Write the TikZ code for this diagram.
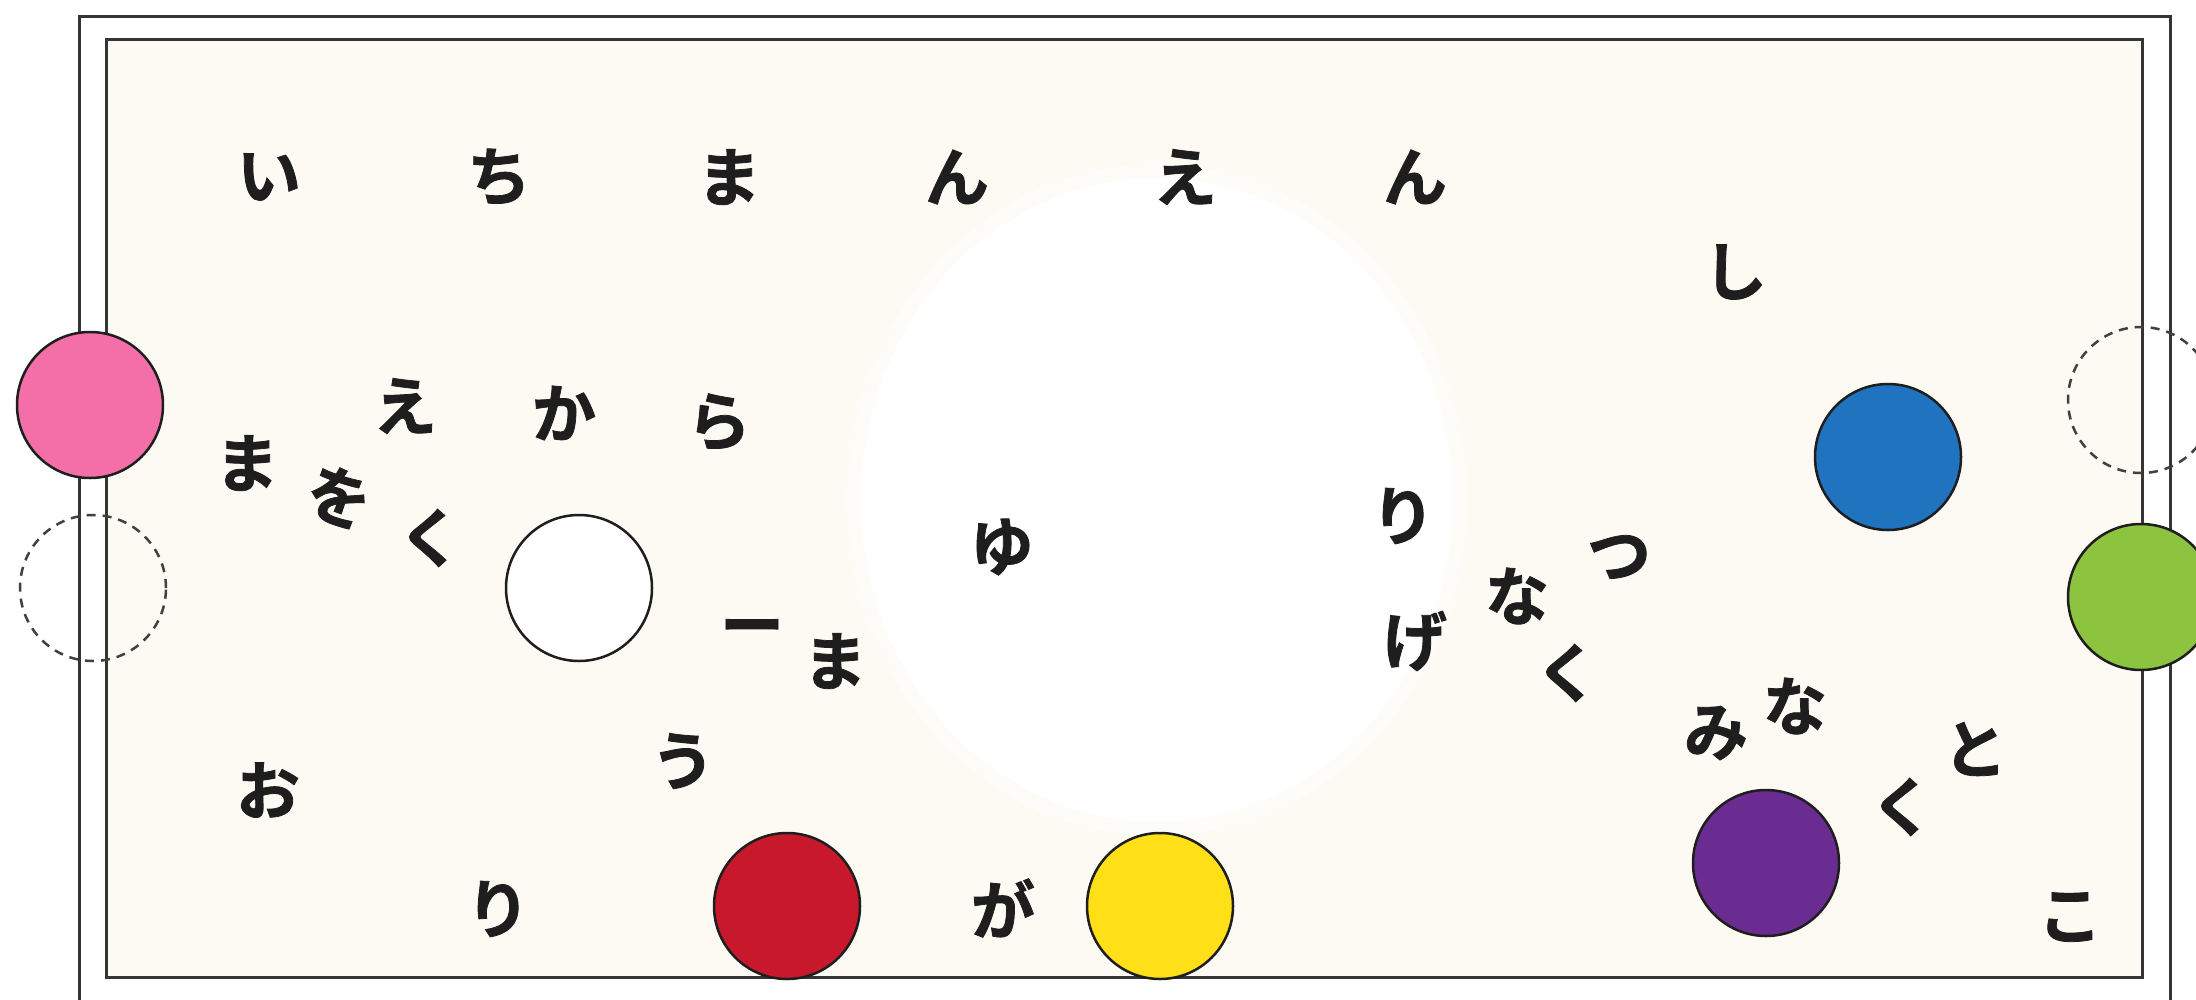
\documentclass[tikz,border=0pt]{standalone}
\usepackage{fontspec}
\newfontfamily\jp{Noto Sans CJK JP}[UprightFont=* Bold, FakeBold=1.2]
\definecolor{cream}{HTML}{FDFAF4}
\definecolor{cpink}{HTML}{F46FA8}
\definecolor{cblue}{HTML}{2073BF}
\definecolor{cgreen}{HTML}{8DC43F}
\definecolor{cred}{HTML}{C8192C}
\definecolor{cyellow}{HTML}{FFDF18}
\definecolor{cpurple}{HTML}{6B2C91}
\definecolor{ink}{HTML}{1E1E1E}
\begin{document}
\begin{tikzpicture}[x=1pt,y=-1pt,
  ltr/.style={inner sep=0pt, font=\jp\fontsize{64}{64}\selectfont, text=ink},
  ball/.style={circle, minimum size=146pt, inner sep=0pt, draw=ink, line width=2.5pt},
  hole/.style={circle, minimum size=146pt, inner sep=0pt, draw=ink!85, line width=2.5pt, dash pattern=on 9pt off 7pt},
  frameline/.style={draw=ink!90, line width=3pt}]
\useasboundingbox (0,0) rectangle (2196,999);
\fill[white] (0,0) rectangle (2196,999);
\fill[cream] (106,39) rectangle (2142,977);
% soft white blob
\fill[white, opacity=0.45] (1157,500) ellipse [x radius=310, y radius=336];
\fill[white] (1157,500) ellipse [x radius=296, y radius=322];
% frame
\draw[frameline] (79,16) rectangle (2170,1020);
\draw[frameline] (106,39) rectangle (2142,977);
% pockets
\node[hole] (h1) at (93,588) {};
\node[hole] (h2) at (2141,400) {};
% balls
\node[ball, fill=cpink] (bpink) at (90,405) {};
\node[ball, fill=white] (bwhite) at (579,588) {};
\node[ball, fill=cred] (bred) at (787,906) {};
\node[ball, fill=cyellow] (byellow) at (1160,906) {};
\node[ball, fill=cblue] (bblue) at (1888,457) {};
\node[ball, fill=cpurple] (bpurple) at (1766,863) {};
\node[ball, fill=cgreen] (bgreen) at (2141,597) {};
% top row
\node[ltr] (t1) at (269,177) {い};
\node[ltr] (t2) at (499,177) {ち};
\node[ltr] (t3) at (729,177) {ま};
\node[ltr] (t4) at (957,177) {ん};
\node[ltr] (t5) at (1185,177) {え};
\node[ltr] (t6) at (1415,177) {ん};
\node[ltr] (s1) at (1735,272) {し};
% left group
\node[ltr] (l1) at (405,406) {え};
\node[ltr] (l2) at (564,413) {か};
\node[ltr] (l3) at (719,422) {ら};
\node[ltr] (l4) at (247,463) {ま};
\node[ltr, rotate=-20] (l5) at (339,497) {を};
\node[ltr] (l6) at (430,538) {く};
% centre
\node[ltr] (c1) at (1002,547) {ゆ};
\node[ltr] (c2) at (752,634) {ー};
\node[ltr] (c3) at (835,661) {ま};
\node[ltr] (c4) at (683,761) {う};
\node[ltr] (c5) at (268,790) {お};
\node[ltr] (c6) at (498,909) {り};
\node[ltr] (c7) at (1003,908) {が};
% right group
\node[ltr] (r1) at (1403,516) {り};
\node[ltr] (r2) at (1415,641) {げ};
\node[ltr] (r3) at (1517,596) {な};
\node[ltr] (r4) at (1619,557) {つ};
\node[ltr] (r5) at (1567,673) {く};
\node[ltr] (r6) at (1716,733) {み};
\node[ltr] (r7) at (1795,706) {な};
\node[ltr] (r8) at (1975,749) {と};
\node[ltr] (r9) at (1902,807) {く};
\node[ltr] (r10) at (2070,917) {こ};
\end{tikzpicture}
\end{document}
